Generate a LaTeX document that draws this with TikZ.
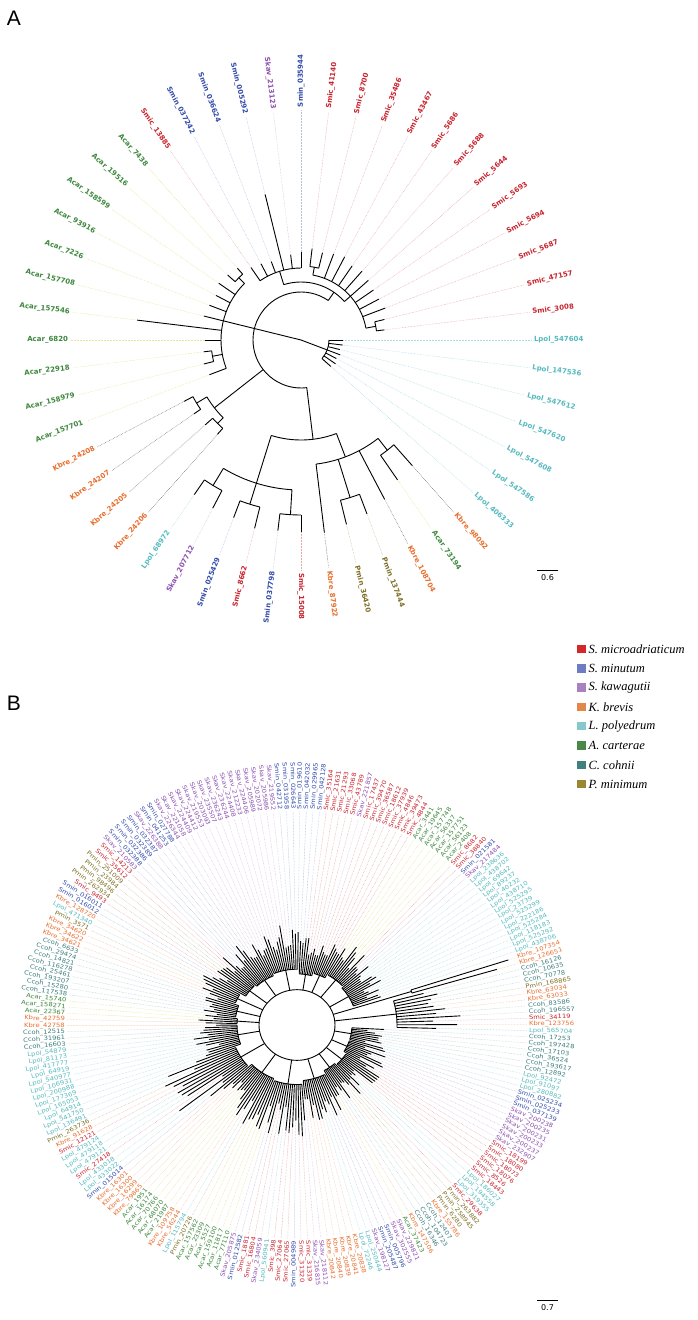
\documentclass[tikz,border=0pt]{standalone}
\usepackage{fontspec}
\setsansfont{DejaVu Sans}
\newfontfamily\legfont{Liberation Serif}
\newfontfamily\panfont{Liberation Sans}
\usetikzlibrary{positioning, calc}

% species colours (labels) and leaf-line colours
\definecolor{Smic}{RGB}{200,35,45}
\definecolor{Smin}{RGB}{50,75,170}
\definecolor{Skav}{RGB}{140,80,175}
\definecolor{Kbre}{RGB}{232,110,45}
\definecolor{Lpol}{RGB}{85,185,190}
\definecolor{Acar}{RGB}{60,135,60}
\definecolor{Ccoh}{RGB}{60,125,125}
\definecolor{Pmin}{RGB}{125,110,35}
\definecolor{AcarLA}{RGB}{228,228,150}
\colorlet{SmicLA}{Smic!40}  \colorlet{SminLA}{Smin!35}
\colorlet{SkavLA}{Skav!35}  \colorlet{KbreLA}{black!55}
\colorlet{LpolLA}{Lpol!50}  \colorlet{PminLA}{Pmin!45}
\colorlet{CcohLA}{Ccoh!40}
\colorlet{SmicLB}{Smic!40}  \colorlet{SminLB}{Smin!35}
\colorlet{SkavLB}{Skav!35}  \colorlet{KbreLB}{Kbre!40}
\colorlet{LpolLB}{Lpol!45}  \colorlet{PminLB}{Pmin!40}
\colorlet{CcohLB}{Ccoh!35}  \colorlet{AcarLB}{AcarLA}

\tikzset{
  branch/.style   = {line width=0.9pt},
  leafline/.style = {line width=0.5pt, dash pattern=on 0.6pt off 0.9pt, draw=#1},
  labA/.style     = {font=\fontsize{7}{8}\selectfont\sffamily\bfseries, text=#1, inner sep=0.8pt},
  labB/.style     = {font=\fontsize{5.9}{6}\selectfont\sffamily, text=#1, inner sep=0pt},
  legsq/.style    = {minimum size=8.5pt, inner sep=0pt, fill=#1},
  legtxt/.style   = {font={\legfont\itshape\fontsize{12.5}{14}\selectfont}, inner sep=0pt},
  panel/.style    = {font={\panfont\fontsize{21}{24}\selectfont}},
  sbar/.style     = {font=\sffamily\fontsize{8}{9}\selectfont}
}

\newcommand\stepA{6.9230769}
\newcommand\stepB{1.6513761}
% arc of a clade (radius, from leaf, to leaf) and a radial stem (leaf, r1, r2)
\newcommand\tarc[3]{\draw[branch] ({(#2)*\stepA}:#1pt) arc[start angle={(#2)*\stepA}, end angle={(#3)*\stepA}, radius=#1pt];}
\newcommand\trad[3]{\draw[branch] ({(#1)*\stepA}:#2pt) -- ({(#1)*\stepA}:#3pt);}

\begin{document}
\begin{tikzpicture}[x=1pt, y=1pt]
  \useasboundingbox (0,0) rectangle (697,-1320);

  % ── Panel letters ─────────────────────────────────────────────────────────
  \node[panel] (pA) at (14,-18)  {A};
  \node[panel] (pB) at (14,-703) {B};

  % ── Tree A ────────────────────────────────────────────────────────────────
  \begin{scope}[shift={(301,-340)}]
    % root and backbone
    \trad{49}{0}{28}    \tarc{28}{46}{52}
    \trad{24}{0}{48}    \tarc{48}{8}{40}
    % Smic / Smin top clade
    \trad{8}{48}{58}    \tarc{58}{6}{15.5}
    \trad{6}{58}{66}    \tarc{66}{1.5}{11.5}
    \trad{1.5}{66}{76}  \tarc{76}{1}{2}
    \trad{11.5}{66}{74} \tarc{74}{11}{12}
    \trad{15.5}{58}{72} \tarc{72}{13}{18}
    % Acar clade
    \trad{24}{48}{80}   \tarc{80}{19.5}{29}
    \trad{19.5}{80}{88} \tarc{88}{19}{20}
    \trad{27.5}{80}{90} \tarc{90}{27}{28}
    % Kbre clade
    \trad{31.5}{48}{110} \tarc{110}{30.5}{32.5}
    \trad{30.5}{110}{122} \tarc{122}{30}{31}
    \trad{32.5}{110}{118} \tarc{118}{32}{33}
    % bottom clade
    \trad{40}{48}{100}   \tarc{100}{36.5}{42}
    \trad{36.5}{100}{150} \tarc{150}{34.5}{38.5}
    \trad{34.5}{150}{170} \tarc{170}{34}{35}
    \trad{36.5}{150}{172} \tarc{172}{36}{37}
    \trad{38.5}{150}{175} \tarc{175}{38}{39}
    \trad{42}{100}{125}  \tarc{125}{40}{44.5}
    \trad{41.5}{125}{165} \tarc{165}{41}{42}
    \trad{44.5}{125}{140} \tarc{140}{44}{45}

    % leaves: index/species/number/parent radius/leaf radius
    \foreach \i/\sp/\num/\p/\r in {
      52/Lpol/547604/28/42, 1/Smic/3008/76/84, 2/Smic/47157/76/86,
      3/Smic/5687/66/90, 4/Smic/5694/66/88, 5/Smic/5693/66/88,
      6/Smic/5644/66/90, 7/Smic/5688/66/92, 8/Smic/5686/66/90,
      9/Smic/43467/66/94, 10/Smic/35486/66/92, 11/Smic/8700/74/90,
      12/Smic/41140/74/92, 13/Smin/035944/72/88, 14/Skav/213123/72/86,
      15/Smin/005292/72/150, 16/Smin/036624/72/84, 17/Smin/037242/72/86,
      18/Smic/13885/72/88, 19/Acar/7438/88/96, 20/Acar/19516/88/98,
      21/Acar/158599/80/100, 22/Acar/93916/80/96, 23/Acar/7226/80/98,
      24/Acar/157708/80/100, 25/Acar/157546/80/165, 26/Acar/6820/80/96,
      27/Acar/22918/90/98, 28/Acar/158979/90/100, 29/Acar/157701/80/98,
      30/Kbre/24208/122/132, 31/Kbre/24207/122/130, 32/Kbre/24205/118/128,
      33/Kbre/24206/118/126, 34/Lpol/68972/170/188, 35/Skav/207712/170/190,
      36/Smin/025429/172/190, 37/Smic/8662/172/194, 38/Smin/037798/175/192,
      39/Smic/15008/175/192, 40/Kbre/87922/125/194, 41/Pmin/36420/165/190,
      42/Pmin/137444/165/186, 43/Kbre/108704/125/180, 44/Acar/73194/140/170,
      45/Kbre/98092/140/168, 46/Lpol/406333/28/40, 47/Lpol/547586/28/42,
      48/Lpol/547608/28/40, 49/Lpol/547620/28/42, 50/Lpol/547612/28/40,
      51/Lpol/147536/28/42}{
      \pgfmathsetmacro\a{\i*\stepA}
      \draw[branch] (\a:\p pt) -- (\a:\r pt);
      \draw[leafline=\sp LA] (\a:\r pt) -- (\a:230pt);
      \pgfmathtruncatemacro\flip{cos(\a)<-0.01}
      \ifnum\flip=1
        \node[labA=\sp, anchor=east, rotate=\a+180] (a\i) at (\a:232pt) {\sp\_\num};
      \else
        \node[labA=\sp, anchor=west, rotate=\a] (a\i) at (\a:232pt) {\sp\_\num};
      \fi
    }
  \end{scope}

  % scale bar A
  \draw[line width=0.8pt] (537,-570) coordinate (sa1) -- (558,-570) coordinate (sa2);
  \node[sbar, below=1pt of $(sa1)!0.5!(sa2)$] (sA) {0.6};

  % ── Legend ────────────────────────────────────────────────────────────────
  \definecolor{lg0}{RGB}{214,39,40}   \definecolor{lg1}{RGB}{110,125,195}
  \definecolor{lg2}{RGB}{168,130,192} \definecolor{lg3}{RGB}{225,135,75}
  \definecolor{lg4}{RGB}{135,200,205} \definecolor{lg5}{RGB}{75,135,72}
  \definecolor{lg6}{RGB}{64,128,126}  \definecolor{lg7}{RGB}{155,135,50}
  \foreach \txt [count=\k from 0] in {S. microadriaticum, S. minutum, S. kawagutii,
      K. brevis, L. polyedrum, A. carterae, C. cohnii, P. minimum}{
    \node[legsq=lg\k] (sq\k) at (581.5,{-649-19.3*\k}) {};
    \node[legtxt, right=2.5pt of sq\k] (lg\k) {\txt};
  }

  % ── Tree B ────────────────────────────────────────────────────────────────
  \begin{scope}[shift={(297,-1025)}, yscale=0.93]
    \draw[branch] (0,0) circle[radius=38pt];
    \pgfmathsetseed{11}
    % clades: first/last/clade radius/min leaf/max leaf
    \foreach \f/\l/\c/\mn/\mx in {
      1/4/60/75/100, 5/12/62/80/105, 13/18/66/85/110, 19/27/60/80/105,
      28/40/58/80/110, 41/55/60/82/112, 56/64/55/70/100, 65/72/58/75/100,
      73/83/62/80/105, 84/97/60/75/100, 98/99/120/200/228, 100/110/100/125/165,
      111/119/55/70/95, 120/128/55/72/98, 129/137/58/75/100, 138/146/56/72/100,
      147/160/60/80/110, 161/176/64/85/130, 177/192/62/80/120,
      193/205/66/90/150, 206/218/60/78/105}{
      \pgfmathsetmacro\am{178.5-((\f+\l)/2-1)*\stepB}
      \pgfmathsetmacro\af{178.5-(\f-1)*\stepB}
      \pgfmathsetmacro\al{178.5-(\l-1)*\stepB}
      \draw[branch] (\am:38pt) -- (\am:\c pt);
      \draw[branch] (\af:\c pt) arc[start angle=\af, end angle=\al, radius=\c pt];
      \foreach \j in {\f,...,\l}{
        \pgfmathsetmacro\aj{178.5-(\j-1)*\stepB}
        \pgfmathsetmacro\rj{\mn+rnd*(\mx-\mn)}
        \expandafter\xdef\csname rB\j\endcsname{\rj}
        \draw[branch] (\aj:\c pt) -- (\aj:\rj pt);
      }
    }

    % leaves, clockwise from the left
    \foreach \sp/\num [count=\i] in {
      Kbre/42759, Acar/22367, Acar/158271, Acar/15740, Ccoh/117538, Ccoh/15280,
      Ccoh/193207, Ccoh/25461, Ccoh/116278, Ccoh/14821, Ccoh/29474, Ccoh/6633,
      Kbre/34621, Kbre/34622, Kbre/34620, Pmin/3571, Lpol/471340, Kbre/128720,
      Smin/016012, Smin/016011, Smic/9493, Pmin/262934, Pmin/98496, Pmin/23984,
      Pmin/251009, Smic/35612, Smic/14213, Skav/210583, Smin/032388, Smin/032386,
      Smin/032389, Smin/032387, Skav/226388, Smin/041253, Smin/027788, Skav/226344,
      Skav/221058, Skav/224409, Skav/224412, Skav/219553, Skav/203093, Skav/235507,
      Skav/236243, Skav/236244, Skav/224408, Skav/212233, Skav/224406, Skav/205989,
      Skav/202072, Skav/205986, Skav/219552, Smin/042712, Smin/031958, Smin/026643,
      Smin/019610, Smin/042032, Smin/029965, Smin/042128, Smic/35164, Smic/21631,
      Smic/21293, Smic/33068, Smic/43789, Skav/221857, Smic/17437, Smic/39470,
      Smic/36587, Smic/18612, Smic/37939, Smic/4846, Smic/39473, Smic/4844,
      Acar/3441, Acar/19645, Acar/157748, Acar/56337, Acar/157751, Acar/56123,
      Acar/2408, Smic/8682, Smic/38840, Smin/021581, Skav/217484, Lpol/238636,
      Lpol/438702, Lpol/69642, Lpol/89237, Lpol/40232, Lpol/438710, Lpol/525295,
      Lpol/23739, Lpol/525299, Lpol/222186, Lpol/525284, Lpol/118183, Lpol/525292,
      Lpol/438706, Kbre/107354, Kbre/126651, Ccoh/16126, Ccoh/10635, Ccoh/70778,
      Pmin/168865, Kbre/63034, Kbre/63033, Ccoh/83586, Ccoh/196557, Smic/34119,
      Kbre/123756, Lpol/565704, Ccoh/17253, Ccoh/197428, Ccoh/17103, Ccoh/36524,
      Ccoh/193617, Ccoh/12892, Lpol/92472, Lpol/91097, Lpol/280882, Smin/025234,
      Smin/025233, Smin/037139, Skav/200238, Skav/200235, Skav/200231, Skav/200233,
      Skav/200237, Skav/232907, Smic/18199, Smic/18080, Smic/18073, Smic/18076,
      Smic/8526, Smic/18443, Lpol/186027, Lpol/194558, Lpol/319355, Smic/29638,
      Pmin/263882, Pmin/258945, Pmin/6280, Kbre/155786, Ccoh/12407, Ccoh/104723,
      Ccoh/16346, Kbre/147506, Acar/37423, Skav/229821, Skav/302555, Smin/005796,
      Smin/205487, Skav/198127, Lpol/250444, Lpol/72246, Kbre/20838, Kbre/20841,
      Kbre/20839, Kbre/20840, Kbre/20842, Skav/218112, Skav/216815, Smic/31319,
      Smic/31320, Smin/004989, Smic/27065, Smic/27064, Smic/398, Lpol/560941,
      Skav/234059, Smic/16804, Smic/1881, Smin/012582, Skav/205875, Acar/77110,
      Acar/11817, Acar/159100, Acar/5527, Acar/23309, Acar/157562, Pmin/20726,
      Lpol/115794, Kbre/56244, Kbre/109758, Acar/21987, Acar/68070, Acar/70766,
      Acar/16174, Acar/1951, Kbre/79865, Kbre/16299, Kbre/16300, Kbre/16301,
      Smin/015014, Lpol/433022, Lpol/433018, Smic/27418, Lpol/479121, Lpol/479118,
      Lpol/479124, Smic/12121, Kbre/91628, Pmin/263736, Lpol/136491, Lpol/541750,
      Lpol/64914, Lpol/165053, Lpol/177369, Lpol/200988, Lpol/106931, Lpol/540977,
      Lpol/64919, Lpol/417777, Lpol/81173, Lpol/54879, Ccoh/16603, Ccoh/31961,
      Ccoh/12515, Kbre/42758}{
      \pgfmathsetmacro\a{178.5-(\i-1)*\stepB}
      \edef\rr{\csname rB\i\endcsname}
      \draw[leafline=\sp LB] (\a:\rr pt) -- (\a:230pt);
      \pgfmathtruncatemacro\flip{cos(\a)<-0.01}
      \ifnum\flip=1
        \node[labB=\sp, anchor=east, rotate=\a+180, xscale=1.15] (b\i) at (\a:232pt) {\sp\_\num};
      \else
        \node[labB=\sp, anchor=west, rotate=\a, xscale=1.15] (b\i) at (\a:232pt) {\sp\_\num};
      \fi
    }
  \end{scope}

  % scale bar B
  \draw[line width=0.8pt] (537,-1300) coordinate (sb1) -- (558,-1300) coordinate (sb2);
  \node[sbar, below=1pt of $(sb1)!0.5!(sb2)$] (sB) {0.7};

\end{tikzpicture}
\end{document}
